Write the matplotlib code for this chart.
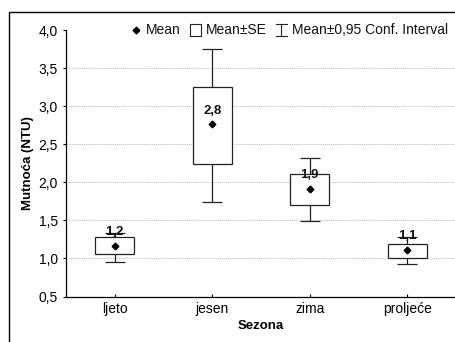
import matplotlib
matplotlib.use("Agg")
import matplotlib.pyplot as plt
from matplotlib.patches import Rectangle
from matplotlib.lines import Line2D

plt.rcParams.update({
    "font.family": ["Liberation Sans", "DejaVu Sans"],
    "font.size": 10,
    "axes.linewidth": 0.9,
    "text.color": "#111111",
})

seasons = ["ljeto", "jesen", "zima", "proljeće"]
means = [1.16, 2.76, 1.91, 1.11]
se_low = [1.056, 2.24, 1.70, 1.01]
se_high = [1.276, 3.25, 2.115, 1.19]
ci_low = [0.95, 1.74, 1.49, 0.93]
ci_high = [1.34, 3.75, 2.32, 1.28]
yticks = [0.5, 1.0, 1.5, 2.0, 2.5, 3.0, 3.5, 4.0]

W, H = 456, 342
FS = 10
fig = plt.figure(figsize=(W / 100, H / 100), dpi=100)
ax = fig.add_axes([66 / W, 1 - 296.5 / H, (W - 66) / W, (296.5 - 30) / H])

x = list(range(len(seasons)))
# whiskers (0.95 CI) behind, boxes (SE) on top
yerr = [[m - lo for m, lo in zip(means, ci_low)], [hi - m for m, hi in zip(means, ci_high)]]
ax.errorbar(x, means, yerr=yerr, fmt="none", ecolor="#222222", elinewidth=0.9,
            capsize=7, capthick=0.9, zorder=2)
ax.bar(x, [h - l for h, l in zip(se_high, se_low)], bottom=se_low, width=0.4,
       color="white", edgecolor="#222222", linewidth=0.9, zorder=3)
ax.plot(x, means, "D", color="black", ms=3.4, zorder=4)
for xi, m in zip(x, means):
    ax.annotate(f"{m:.1f}".replace(".", ","), (xi, m), textcoords="offset points",
                xytext=(0, 10), ha="center", va="center", fontsize=9.5,
                fontweight="bold", zorder=5)

ax.hlines(yticks[1:-1], -0.5, len(seasons) - 0.5, colors="#bbbbbb",
          linestyles=(0, (1, 1)), linewidth=0.7, zorder=1)

ax.set_xlim(-0.5, len(seasons) - 0.5)
ax.set_ylim(yticks[0], yticks[-1])
ax.set_xticks(x)
ax.set_xticklabels(seasons)
ax.set_yticks(yticks)
ax.set_yticklabels([f"{v:.1f}".replace(".", ",") for v in yticks])
ax.tick_params(axis="x", direction="in", length=2, pad=4, labelsize=FS)
ax.tick_params(axis="y", direction="out", length=2, pad=4, labelsize=FS)
ax.spines["top"].set_visible(False)
ax.spines["right"].set_visible(False)
ax.set_xlabel("Sezona", fontweight="bold", fontsize=9.5, labelpad=3)
ax.set_ylabel("Mutnoća (NTU)", fontweight="bold", fontsize=9.5, labelpad=3)

# legend drawn across the top
ly = 1 - 30 / H
tf = fig.transFigure
fig.add_artist(Line2D([136 / W], [ly], marker="D", color="black", ms=3.4,
                      linestyle="none", transform=tf))
fig.text(146 / W, ly, "Mean", va="center", fontsize=FS)
fig.add_artist(Rectangle((190 / W, 1 - 36 / H), 11 / W, 12 / H, fill=False,
                         edgecolor="#222222", linewidth=0.8, transform=tf))
fig.text(206 / W, ly, "Mean±SE", va="center", fontsize=FS)
fig.add_artist(Line2D([281.5 / W, 281.5 / W], [1 - 24 / H, 1 - 36 / H],
                      color="#222222", linewidth=0.8, transform=tf))
fig.add_artist(Line2D([276 / W, 287 / W], [1 - 24 / H, 1 - 24 / H],
                      color="#222222", linewidth=0.8, transform=tf))
fig.add_artist(Line2D([276 / W, 287 / W], [1 - 36 / H, 1 - 36 / H],
                      color="#222222", linewidth=0.8, transform=tf))
fig.text(292 / W, ly, "Mean±0,95 Conf. Interval", va="center", fontsize=FS)

# outer frame
fig.add_artist(Rectangle((9 / W, -0.2), 1.2, 1 - 12 / H + 0.2, fill=False,
                         edgecolor="black", linewidth=1.0, transform=tf))

fig.savefig("out.png", dpi=100)
